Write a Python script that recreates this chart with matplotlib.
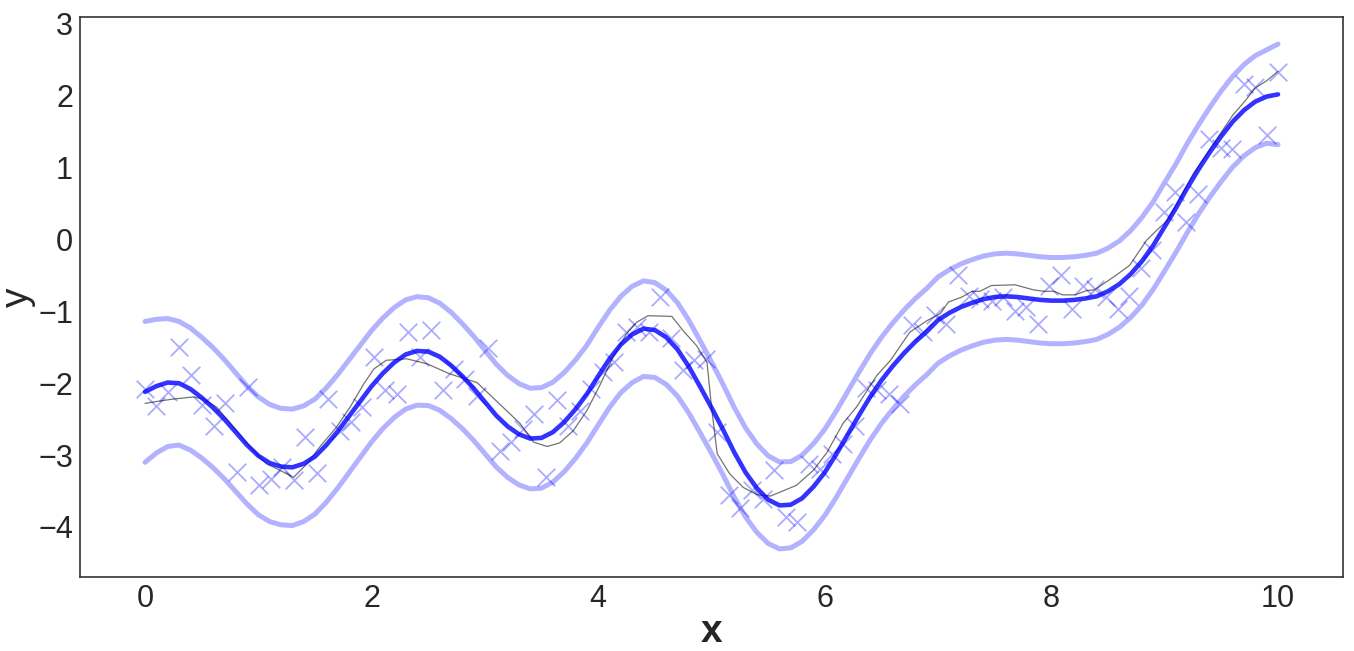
import numpy as np
import matplotlib
matplotlib.use("Agg")
import matplotlib.pyplot as plt
import seaborn as sns

# observed points (x grid of 100 samples over 0..10)
obs_x = [round(i * 10 / 99, 4) for i in range(100)]
obs_y = [-2.08, -2.31, -2.12, -1.50, -1.88, -2.30, -2.59, -2.28, -3.24, -2.05,
         -3.42, -3.33, -3.17, -3.34, -2.75, -3.25, -2.22, -2.66, -2.54, -2.33,
         -1.63, -2.10, -2.15, -1.29, -1.64, -1.26, -2.09, -1.80, -1.94, -2.18,
         -1.51, -2.94, -2.82, -2.63, -2.43, -3.31, -2.23, -2.59, -2.38, -2.08,
         -1.85, -1.71, -1.28, -1.22, -1.28, -0.80, -1.37, -1.82, -1.68, -1.66,
         -2.68, -3.56, -3.73, -3.49, -3.61, -3.21, -3.86, -3.93, -3.12, -3.19,
         -2.98, -2.84, -2.59, -2.06, -2.10, -2.15, -2.29, -1.19, -1.28, -1.05,
         -1.17, -0.50, -0.78, -0.83, -0.85, -0.80, -0.99, -0.94, -1.18, -0.64,
         -0.50, -0.96, -0.65, -0.69, -0.80, -0.96, -0.78, -0.39, -0.15, 0.38,
         0.66, 0.24, 0.64, 1.40, 1.28, 1.26, 2.17, 2.12, 1.45, 2.33]

# thin reference line
ref_x = [0.00, 0.16, 0.25, 0.43, 0.51, 0.63, 0.81, 0.93, 1.07, 1.19, 1.31, 1.43,
         1.54, 1.69, 1.81, 1.93, 2.02, 2.13, 2.31, 2.49, 2.69, 2.93, 3.13, 3.31,
         3.43, 3.55, 3.66, 3.78, 3.90, 4.02, 4.13, 4.25, 4.34, 4.44, 4.65, 4.75,
         4.87, 4.96, 5.00, 5.05, 5.16, 5.28, 5.40, 5.52, 5.75, 5.90, 6.02, 6.16,
         6.28, 6.46, 6.58, 6.75, 6.90, 7.02, 7.09, 7.21, 7.30, 7.37, 7.47, 7.68,
         7.84, 7.93, 8.02, 8.10, 8.21, 8.31, 8.38, 8.55, 8.69, 8.84, 8.93, 9.02,
         9.14, 9.25, 9.37, 9.49, 9.60, 9.71, 9.80, 9.90, 10.00]
ref_y = [-2.28, -2.24, -2.22, -2.19, -2.22, -2.33, -2.66, -2.89, -3.12, -3.21,
         -3.31, -3.12, -2.89, -2.61, -2.33, -2.01, -1.80, -1.68, -1.66, -1.73,
         -1.87, -1.99, -2.29, -2.56, -2.82, -2.88, -2.83, -2.66, -2.38, -2.01,
         -1.64, -1.31, -1.15, -1.06, -1.07, -1.27, -1.48, -1.71, -2.33, -2.98,
         -3.26, -3.45, -3.55, -3.57, -3.42, -3.21, -2.96, -2.56, -2.33, -1.89,
         -1.68, -1.29, -1.13, -1.03, -0.87, -0.80, -0.72, -0.72, -0.64, -0.63,
         -0.70, -0.72, -0.72, -0.77, -0.77, -0.71, -0.70, -0.52, -0.36, -0.01,
         0.13, 0.26, 0.59, 0.91, 1.19, 1.47, 1.73, 1.93, 2.11, 2.21, 2.34]

# predictive mean and half-width of the band (grid 0, 0.1, ..., 10)
grid_x = [round(i * 0.1, 1) for i in range(101)]
mean_y = [-2.12, -2.04, -1.99, -2.00, -2.08, -2.20, -2.34, -2.50, -2.68, -2.86,
          -3.01, -3.11, -3.16, -3.17, -3.12, -3.02, -2.86, -2.67, -2.46, -2.25,
          -2.04, -1.86, -1.71, -1.60, -1.55, -1.56, -1.63, -1.75, -1.90, -2.07,
          -2.26, -2.45, -2.60, -2.71, -2.77, -2.76, -2.68, -2.54, -2.36, -2.15,
          -1.90, -1.66, -1.46, -1.32, -1.24, -1.26, -1.36, -1.53, -1.77, -2.05,
          -2.34, -2.64, -2.96, -3.24, -3.46, -3.62, -3.70, -3.69, -3.60, -3.44,
          -3.24, -2.99, -2.72, -2.45, -2.19, -1.96, -1.76, -1.58, -1.42, -1.28,
          -1.12, -1.02, -0.94, -0.88, -0.83, -0.80, -0.79, -0.80, -0.82, -0.84,
          -0.85, -0.85, -0.84, -0.82, -0.79, -0.72, -0.62, -0.48, -0.30, -0.08,
          0.18, 0.44, 0.72, 0.98, 1.22, 1.44, 1.64, 1.80, 1.92, 1.99, 2.02]
band_w = [0.98, 0.93, 0.89, 0.86, 0.85, 0.84, 0.835, 0.83, 0.825, 0.82,
          0.82, 0.815, 0.81, 0.81, 0.805, 0.80, 0.795, 0.79, 0.785, 0.78,
          0.775, 0.77, 0.765, 0.76, 0.755, 0.75, 0.745, 0.74, 0.73, 0.725,
          0.72, 0.715, 0.71, 0.705, 0.70, 0.70, 0.695, 0.69, 0.685, 0.68,
          0.68, 0.675, 0.67, 0.67, 0.665, 0.66, 0.655, 0.65, 0.645, 0.64,
          0.635, 0.63, 0.625, 0.62, 0.615, 0.61, 0.605, 0.60, 0.60, 0.60,
          0.60, 0.60, 0.60, 0.60, 0.60, 0.60, 0.60, 0.60, 0.60, 0.60,
          0.60, 0.60, 0.60, 0.60, 0.60, 0.60, 0.60, 0.60, 0.60, 0.60,
          0.60, 0.60, 0.60, 0.60, 0.60, 0.60, 0.60, 0.605, 0.61, 0.61,
          0.615, 0.615, 0.62, 0.62, 0.625, 0.63, 0.63, 0.635, 0.64, 0.65, 0.70]

sns.set_style("white")
plt.rcParams['font.family'] = ['Liberation Sans', 'DejaVu Sans']

mean = np.array(mean_y)
w = np.array(band_w)

fig = plt.figure(figsize=(13.54, 6.51), dpi=100)
ax = fig.add_axes([0.0591, 0.1137, 0.9328, 0.8602])

ax.scatter(obs_x, obs_y, marker='x', s=160, color='blue', alpha=0.33, linewidths=1.3)
ax.plot(ref_x, ref_y, color='k', alpha=0.55, linewidth=0.9)
ax.plot(grid_x, mean, color='blue', alpha=0.8, linewidth=3.3)
ax.plot(grid_x, mean + w, color='blue', alpha=0.3, linewidth=3.6)
ax.plot(grid_x, mean - w, color='blue', alpha=0.3, linewidth=3.6)

ax.set_xlim(-0.574, 10.574)
ax.set_ylim(-4.696, 3.097)
ax.set_xticks([0, 2, 4, 6, 8, 10])
ax.set_yticks([-4, -3, -2, -1, 0, 1, 2, 3])
ax.tick_params(labelsize=22, length=0, pad=5, colors='#262626')
ax.set_xlabel('x', fontsize=28, fontweight='bold', color='#262626', labelpad=0)
ax.set_ylabel('y', fontsize=28, color='#262626', labelpad=2)
for s in ax.spines.values():
    s.set_color('#333333')
    s.set_linewidth(1.2)

fig.savefig('out.png', dpi=100)
